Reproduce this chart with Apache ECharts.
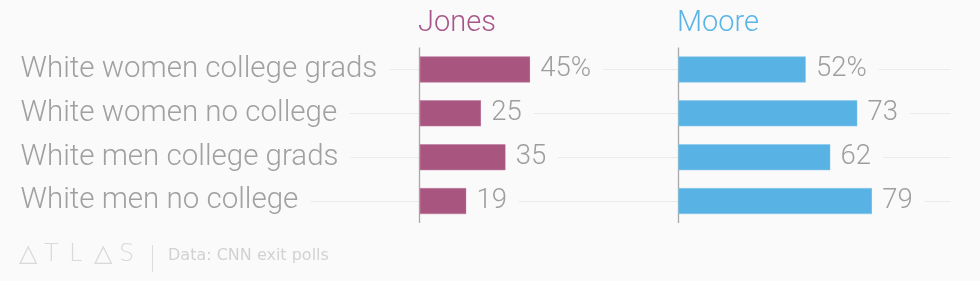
<!DOCTYPE html>
<html>
<head>
<meta charset="utf-8">
<script src="https://cdn.jsdelivr.net/npm/echarts@6/dist/echarts.min.js"></script>
<style>
  html, body { margin: 0; padding: 0; background: #fafafa; }
  #chart { width: 980px; height: 281px; }
</style>
</head>
<body>
<div id="chart"></div>
<script>
const categories = ['White women college grads', 'White women no college', 'White men college grads', 'White men no college'];
const seriesNames = ['Jones', 'Moore'];
const jonesValues = [45, 25, 35, 19];
const mooreValues = [52, 73, 62, 79];
const sourceText = 'Data: CNN exit polls';
const logoLetters = ['△', 'T', 'L', '△', 'S'];

const BG = '#fafafa';
const JONES = '#a8567f';
const MOORE = '#59b2e4';
const GRID_TOP = 47.5, GRID_H = 175.5;

function valueLabel() {
  return {
    show: true,
    position: 'right',
    distance: 0,
    padding: [4, 12, 0, 10],
    backgroundColor: BG,
    color: '#9e9e9e',
    fontSize: 27.5,
    fontFamily: 'Roboto',
    fontWeight: 300,
    formatter: p => p.dataIndex === 0 ? p.value + '%' : String(p.value)
  };
}
function guides() {
  return {
    silent: true,
    symbol: 'none',
    z: 1,
    label: { show: false },
    emphasis: { disabled: true },
    lineStyle: { color: '#ebebeb', type: 'solid', width: 1 },
    data: categories.map(c => ({ yAxis: c })).concat([
      { xAxis: 0, lineStyle: { color: '#a9a9a9', type: 'solid', width: 1.3 } }
    ])
  };
}

const chart = echarts.init(document.getElementById('chart'), null, { renderer: 'canvas' });
chart.setOption({
  backgroundColor: BG,
  animation: false,
  title: [
    { text: seriesNames[0], left: 418, top: 9, padding: 0,
      textStyle: { color: '#a8568a', fontSize: 29, fontWeight: 300, fontFamily: 'Roboto' } },
    { text: seriesNames[1], left: 677, top: 9, padding: 0,
      textStyle: { color: '#5ab4e6', fontSize: 29, fontWeight: 300, fontFamily: 'Roboto' } },
    { text: logoLetters.map(l => '{a|' + l + '}').join(''), left: 19, top: 243, padding: 0,
      textStyle: { rich: { a: { width: 25, fontSize: 24, color: '#d9d9d9', fontFamily: 'DejaVu Sans', fontWeight: 200 } } } },
    { text: sourceText, left: 168, top: 248, padding: 0,
      textStyle: { color: '#d2d2d2', fontSize: 16, fontWeight: 'normal', fontFamily: 'DejaVu Sans' } }
  ],
  graphic: [
    { type: 'line', shape: { x1: 152.5, y1: 245, x2: 152.5, y2: 272 }, style: { stroke: '#dddddd', lineWidth: 1 }, silent: true }
  ],
  grid: [
    { left: 20, width: 658.3, top: GRID_TOP, height: GRID_H },
    { left: 678.3, width: 272.4, top: GRID_TOP, height: GRID_H }
  ],
  xAxis: [
    { type: 'value', gridIndex: 0, min: -162.8, max: 105.3, show: false },
    { type: 'value', gridIndex: 1, min: 0, max: 111, show: false }
  ],
  yAxis: [
    { type: 'category', gridIndex: 0, data: categories, inverse: true, z: 3,
      axisLine: { show: false, onZero: false }, axisTick: { show: false }, splitLine: { show: false },
      axisLabel: { inside: true, margin: 0.5, color: '#a0a0a0', fontSize: 29.5, fontFamily: 'Roboto', fontWeight: 300,
        backgroundColor: BG, padding: [4, 12, 0, 0] } },
    { type: 'category', gridIndex: 1, data: categories, inverse: true, show: false,
      axisLine: { onZero: false } }
  ],
  series: [
    { name: seriesNames[0], type: 'bar', xAxisIndex: 0, yAxisIndex: 0, data: jonesValues,
      barWidth: 26, z: 2,
      itemStyle: { color: JONES, borderColor: '#c07ba0', borderWidth: 0.6 },
      emphasis: { disabled: true },
      label: valueLabel(), markLine: guides() },
    { name: seriesNames[1], type: 'bar', xAxisIndex: 1, yAxisIndex: 1, data: mooreValues,
      barWidth: 26, z: 2,
      itemStyle: { color: MOORE, borderColor: '#86c8ec', borderWidth: 0.6 },
      emphasis: { disabled: true },
      label: valueLabel(), markLine: guides() }
  ]
});
</script>
</body>
</html>
